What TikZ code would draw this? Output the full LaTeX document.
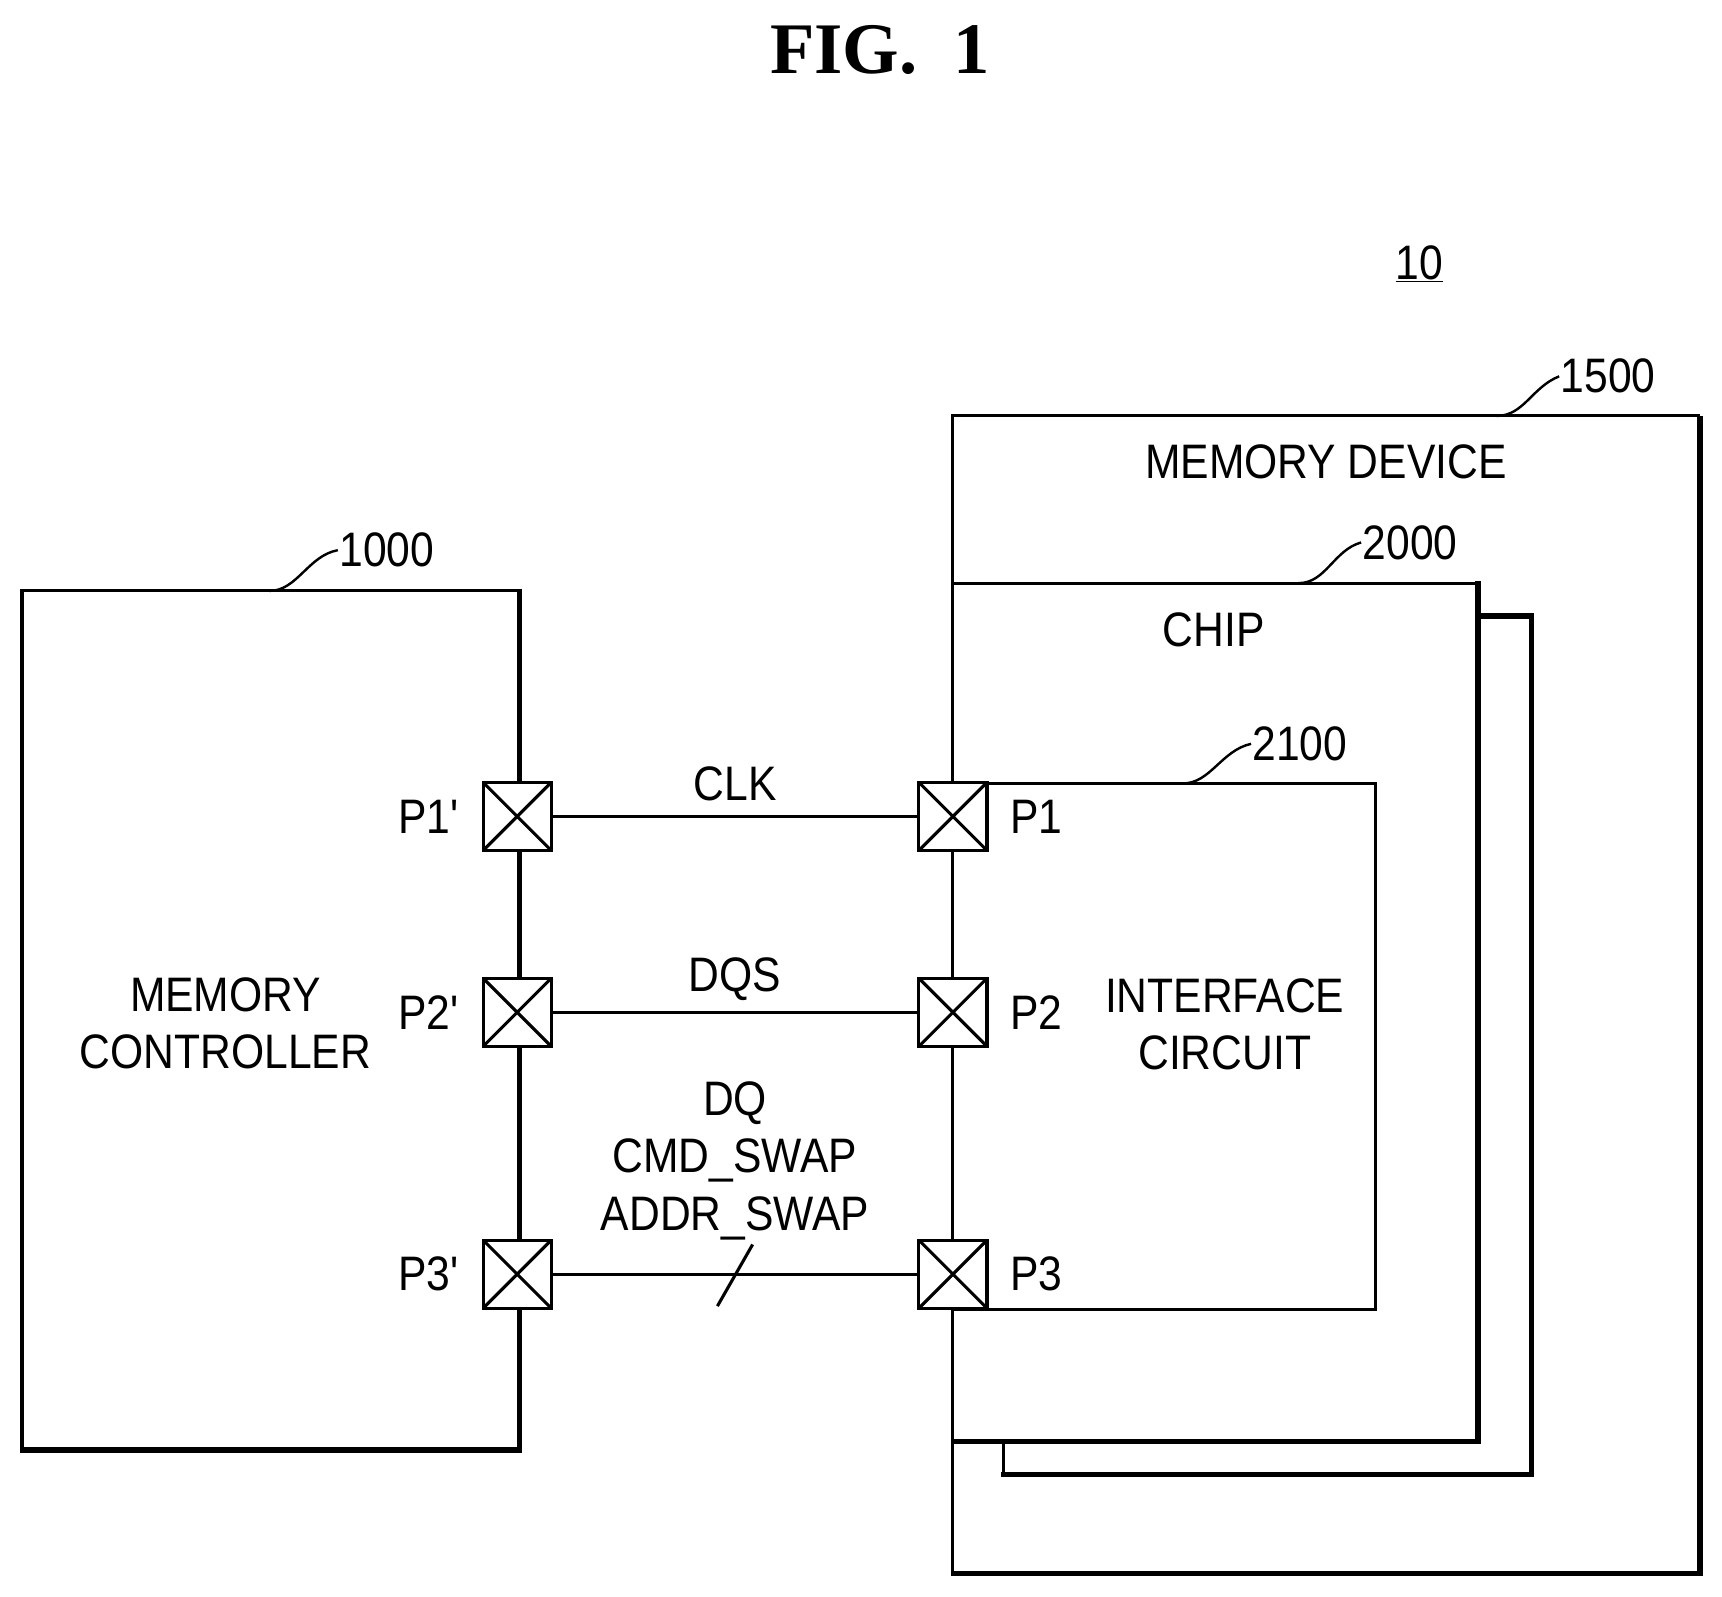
\documentclass[tikz,border=0pt]{standalone}
\usepackage{fontspec}
\setmainfont[FakeStretch=0.88]{Liberation Sans}
\newfontfamily\figfont{Liberation Serif}
\begin{document}
\begin{tikzpicture}[x=1pt,y=-1pt,line width=2.8pt,
  lbl/.style={font=\fontsize{44}{52}\selectfont,inner sep=0pt},
  pad/.style={draw,fill=white,minimum size=62pt,inner sep=0pt,line width=2.8pt,
    path picture={\draw[line width=2.8pt] (path picture bounding box.north west)--(path picture bounding box.south east)
      (path picture bounding box.north east)--(path picture bounding box.south west);}},
  thick edge/.style={line width=5pt},
  lead/.style={line width=2.2pt}]
\useasboundingbox (0,0) rectangle (1565,1451);
\node[font=\figfont\bfseries\fontsize{66}{70}\selectfont] (fig) at (800,45) {FIG.\ \ 1};
\node[lbl] (ten) at (1290,240) {\underline{10}};
% outer memory device
\draw (866,1430) -- (866,378) -- (1545,378);
\draw[thick edge] (1545,378) -- (1545,1430) -- (864,1430);
\node[lbl] (md) at (1205,420) {MEMORY DEVICE};
\node[lbl,anchor=west] (n1500) at (1417,342) {1500};
\draw[lead] (1360,378) .. controls (1385,378) and (1392,352) .. (n1500.west);
% back chip
\draw (912,1310) -- (912,1340);
\draw[thick edge] (1343,560) -- (1392,560) -- (1392,1340) -- (910,1340);
% chip
\draw (866,530) -- (1343,530);
\draw[thick edge] (1343,528) -- (1343,1310) -- (864,1310);
\node[lbl] (chip) at (1103,572) {CHIP};
\node[lbl,anchor=west] (n2000) at (1237,493) {2000};
\draw[lead] (1180,530) .. controls (1205,530) and (1212,500) .. (n2000.west);
% interface circuit
\draw (866,712) rectangle (1250,1190);
\node[lbl,align=center] (ic) at (1113,931) {INTERFACE\\CIRCUIT};
\node[lbl,anchor=west] (n2100) at (1137,676) {2100};
\draw[lead] (1075,712) .. controls (1100,712) and (1110,682) .. (n2100.west);
% memory controller
\draw (472,537) -- (20,537) -- (20,1318);
\draw[thick edge] (472,535) -- (472,1318) -- (18,1318);
\node[lbl,align=center] (mc) at (205,930) {MEMORY\\CONTROLLER};
\node[lbl,anchor=west] (n1000) at (307,500) {1000};
\draw[lead] (245,537) .. controls (270,537) and (280,505) .. (n1000.west);
% pads
\node[pad] (p1l) at (470,742) {};
\node[pad] (p2l) at (470,920) {};
\node[pad] (p3l) at (470,1158) {};
\node[pad] (p1r) at (866,742) {};
\node[pad] (p2r) at (866,920) {};
\node[pad] (p3r) at (866,1158) {};
\node[lbl] (lp1l) at (390,742) {P1\textquotesingle};
\node[lbl] (lp2l) at (390,920) {P2\textquotesingle};
\node[lbl] (lp3l) at (390,1158) {P3\textquotesingle};
\node[lbl] (lp1r) at (942,742) {P1};
\node[lbl] (lp2r) at (942,920) {P2};
\node[lbl] (lp3r) at (942,1158) {P3};
\draw (p1l) -- (p1r);
\draw (p2l) -- (p2r);
\draw (p3l) -- (p3r);
\node[lbl] (clk) at (668,712) {CLK};
\node[lbl] (dqs) at (668,890) {DQS};
\node[lbl,align=center] (dq) at (668,1055) {DQ\\CMD\_SWAP\\ADDR\_SWAP};
\coordinate (s1) at (652,1187);
\coordinate (s2) at (684,1131);
\draw (s1) -- (s2);
\end{tikzpicture}
\end{document}
